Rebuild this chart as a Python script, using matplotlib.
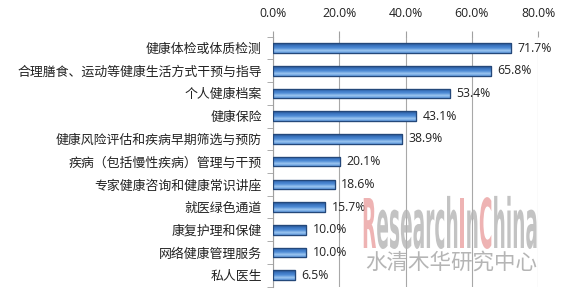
import matplotlib
matplotlib.use("Agg")
import matplotlib.pyplot as plt
import numpy as np
from matplotlib.colors import LinearSegmentedColormap
from matplotlib.font_manager import FontProperties
from matplotlib.patches import PathPatch
from matplotlib.textpath import TextPath, text_to_path
from matplotlib.transforms import Affine2D
from matplotlib.ticker import FixedLocator

plt.rcParams["font.family"] = ["Noto Sans CJK SC", "DejaVu Sans"]

categories = [
    "健康体检或体质检测",
    "合理膳食、运动等健康生活方式干预与指导",
    "个人健康档案",
    "健康保险",
    "健康风险评估和疾病早期筛选与预防",
    "疾病（包括慢性疾病）管理与干预",
    "专家健康咨询和健康常识讲座",
    "就医绿色通道",
    "康复护理和保健",
    "网络健康管理服务",
    "私人医生",
]
values = [71.7, 65.8, 53.4, 43.1, 38.9, 20.1, 18.6, 15.7, 10.0, 10.0, 6.5]
x_ticks = [0, 20, 40, 60, 80]

fig = plt.figure(figsize=(5.67, 2.96), dpi=100)
ax = fig.add_axes([0.4815, 0.032, 0.4674, 0.844])

y = np.arange(len(categories))
bars = ax.barh(y, values, height=0.42, color="#4a86cf", edgecolor="#24487a",
               linewidth=0.8, zorder=3)

# cylinder-like vertical gradient inside each bar
grad_cmap = LinearSegmentedColormap.from_list(
    "bar", ["#264f8a", "#3a74bf", "#4f8cd6", "#9cc6f0", "#5f98dc"])
grad = np.linspace(0, 1, 64).reshape(-1, 1)
for b in bars:
    x0, y0 = b.get_x(), b.get_y()
    w, h = b.get_width(), b.get_height()
    im = ax.imshow(grad, cmap=grad_cmap, aspect="auto", origin="lower",
                   extent=(x0, x0 + w, y0, y0 + h), zorder=3.5)
    im.set_clip_path(b)
    ax.add_patch(plt.Rectangle((x0, y0), w, h, fill=False,
                               edgecolor="#24487a", linewidth=0.9, zorder=4))

for yi, v in zip(y, values):
    ax.text(v + 2.0, yi, f"{v:.1f}%", va="center", ha="left", fontsize=8.8,
            color="#222222", family=["Open Sans", "DejaVu Sans"], zorder=5)

ax.set_xlim(0, 80)
ax.set_ylim(len(categories) - 0.5, -0.5)
ax.set_xticks(x_ticks)
ax.set_xticklabels([f"{t:.1f}%" for t in x_ticks], fontsize=8.8,
                   family=["Open Sans", "DejaVu Sans"], color="#222222")
ax.xaxis.tick_top()
ax.tick_params(axis="x", length=4, color="#a0a0a0", pad=8)
ax.grid(axis="x", color="#a8a8a8", linewidth=0.8, zorder=0)

ax.set_yticks(y)
ax.set_yticklabels(categories, fontsize=9.3, color="#222222")
ax.tick_params(axis="y", length=0, pad=8)
ax.yaxis.set_minor_locator(FixedLocator(np.arange(len(categories) + 1) - 0.5))
ax.tick_params(axis="y", which="minor", length=4, color="#a0a0a0")

for s in ["top", "right", "bottom"]:
    ax.spines[s].set_visible(False)
ax.spines["left"].set_color("#a0a0a0")
ax.set_facecolor("none")

# watermark
wm_segments = [("R", "#eaa0a0"), ("esearch", "#b4b4b4"), ("I", "#eaa0a0"),
               ("n", "#b4b4b4"), ("C", "#eaa0a0"), ("hina", "#b4b4b4")]
prop = FontProperties(family="DejaVu Sans", weight="bold")
full = "".join(s for s, _ in wm_segments)
full_w = text_to_path.get_text_width_height_descent(full, prop, ismath=False)[0]
cap_h = TextPath((0, 0), "R", prop=prop, size=1).get_extents().height
# target box in pixels
wm_x0, wm_base, wm_w, wm_cap = 362, 296 - 248, 176, 50
sx = wm_w / (full_w / prop.get_size_in_points())
sy = wm_cap / cap_h
offset = 0.0
for seg, col in wm_segments:
    tp = TextPath((offset, 0), seg, prop=prop, size=1)
    tr = Affine2D().scale(sx, sy).translate(wm_x0, wm_base)
    fig.patches.append(PathPatch(tr.transform_path(tp), facecolor=col,
                                 edgecolor="none", alpha=0.8,
                                 transform=None, zorder=6))
    offset += text_to_path.get_text_width_height_descent(
        seg, prop, ismath=False)[0] / prop.get_size_in_points()

fig.text(451 / 567, 1 - 263 / 296, "水清木华研究中心", ha="center", va="center",
         fontsize=15.5, color="#a8a8a8", alpha=0.85, zorder=6)

fig.savefig("out.png", dpi=100)
